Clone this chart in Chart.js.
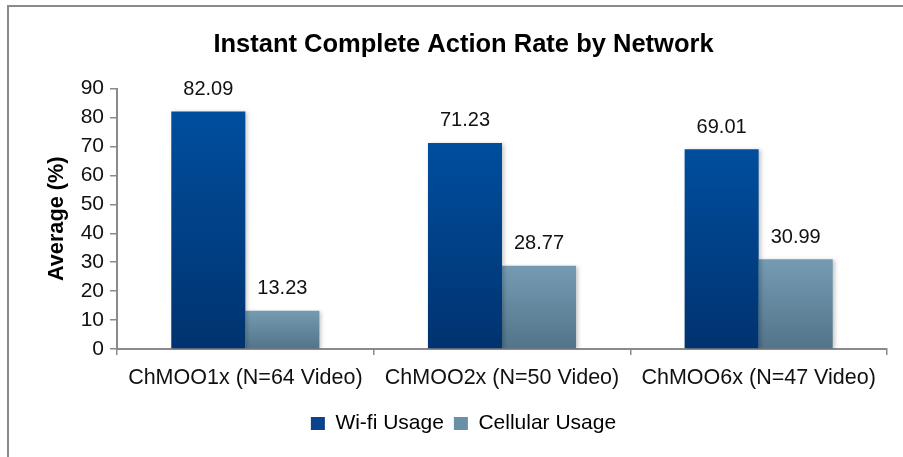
<!DOCTYPE html>
<html>
<head>
<meta charset="utf-8">
<script src="https://cdn.jsdelivr.net/npm/chart.js@4.4.1/dist/chart.umd.min.js"></script>
<style>
  html, body { margin: 0; padding: 0; background: #ffffff; }
  #wrap { position: relative; width: 903px; height: 457px; }
</style>
</head>
<body>
<div id="wrap"><canvas id="c" width="903" height="457"></canvas></div>
<script>
const chartTitle = 'Instant Complete Action Rate by Network';
const yAxisTitle = 'Average (%)';
const categories = ['ChMOO1x (N=64 Video)', 'ChMOO2x (N=50 Video)', 'ChMOO6x (N=47 Video)'];
const seriesNames = ['Wi-fi Usage', 'Cellular Usage'];
const wifiValues = [82.09, 71.23, 69.01];
const cellularValues = [13.23, 28.77, 30.99];
const yTickValues = [0, 10, 20, 30, 40, 50, 60, 70, 80, 90];

const FONT = "'Liberation Sans', Arial, Helvetica, sans-serif";
const wifiGrad = ['#004E9E', '#00336F'];
const cellGrad = ['#759BB2', '#52748A'];

function barGradient(stops, flat) {
  return (c) => {
    const chart = c.chart;
    if (c.type !== 'data' || !chart.chartArea || !chart.scales.y) return flat;
    const ys = chart.scales.y;
    const top = ys.getPixelForValue(c.raw);
    const base = ys.getPixelForValue(0);
    if (!isFinite(top) || !isFinite(base) || top === base) return flat;
    const g = chart.ctx.createLinearGradient(0, top, 0, base);
    g.addColorStop(0, stops[0]);
    g.addColorStop(1, stops[1]);
    return g;
  };
}

const frame = {
  id: 'frame',
  beforeDraw(chart) {
    const ctx = chart.ctx;
    ctx.save();
    ctx.fillStyle = '#ffffff';
    ctx.fillRect(0, 0, chart.width, chart.height);
    ctx.strokeStyle = '#8a8a8a';
    ctx.lineWidth = 2;
    ctx.strokeRect(8, 6, chart.width + 20, chart.height + 20);
    ctx.restore();
  }
};

const barShadow = {
  id: 'barShadow',
  beforeDatasetsDraw(chart) {
    const ctx = chart.ctx;
    ctx.save();
    ctx.shadowColor = 'rgba(0,0,0,0.22)';
    ctx.shadowBlur = 4;
    ctx.shadowOffsetX = 2;
    ctx.shadowOffsetY = 1;
  },
  afterDatasetsDraw(chart) {
    chart.ctx.restore();
  }
};

const valueLabels = {
  id: 'valueLabels',
  afterDatasetsDraw(chart) {
    const ctx = chart.ctx;
    ctx.save();
    ctx.shadowColor = 'transparent';
    ctx.font = '20px ' + FONT;
    ctx.fillStyle = '#111111';
    ctx.textAlign = 'center';
    ctx.textBaseline = 'middle';
    chart.data.datasets.forEach((ds, di) => {
      const meta = chart.getDatasetMeta(di);
      meta.data.forEach((el, i) => {
        ctx.fillText(ds.data[i].toFixed(2), el.x, el.y - 22);
      });
    });
    ctx.restore();
  }
};

new Chart(document.getElementById('c'), {
  type: 'bar',
  data: {
    labels: categories,
    datasets: [
      { label: seriesNames[0], data: wifiValues, backgroundColor: barGradient(wifiGrad, '#0B4590'),
        categoryPercentage: 0.577, barPercentage: 1.0 },
      { label: seriesNames[1], data: cellularValues, backgroundColor: barGradient(cellGrad, '#6A90A8'),
        categoryPercentage: 0.577, barPercentage: 1.0 }
    ]
  },
  options: {
    responsive: false,
    animation: false,
    devicePixelRatio: 1,
    layout: { padding: { left: 40, right: 16, top: 0, bottom: 13 } },
    plugins: {
      title: {
        display: true,
        text: chartTitle,
        color: '#000000',
        font: { family: FONT, size: 25.5, weight: 'bold' },
        padding: { top: 30, bottom: 28 }
      },
      legend: {
        position: 'bottom',
        labels: {
          color: '#111111',
          font: { family: FONT, size: 21 },
          boxWidth: 14,
          boxHeight: 13,
          padding: 10,
          generateLabels: () => [
            { text: seriesNames[0], fillStyle: '#0A438C', strokeStyle: '#0A438C', lineWidth: 0, datasetIndex: 0 },
            { text: seriesNames[1], fillStyle: '#6A90A8', strokeStyle: '#6A90A8', lineWidth: 0, datasetIndex: 1 }
          ]
        }
      },
      tooltip: { enabled: false }
    },
    scales: {
      x: {
        offset: true,
        grid: { display: true, offset: true, drawOnChartArea: false, tickLength: 6, color: '#8a8a8a', lineWidth: 1.5 },
        border: { display: true, color: '#8a8a8a', width: 2 },
        ticks: { color: '#111111', font: { family: FONT, size: 21.5 }, padding: 10, maxRotation: 0, autoSkip: false },
        afterFit(scale) { scale.height = 54; }
      },
      y: {
        min: 0,
        max: 90,
        afterBuildTicks(scale) { scale.ticks = yTickValues.map(v => ({ value: v })); },
        grid: { display: true, drawOnChartArea: false, tickLength: 7, color: '#8a8a8a', lineWidth: 1.5 },
        border: { display: true, color: '#8a8a8a', width: 2 },
        ticks: { color: '#111111', font: { family: FONT, size: 21 }, padding: 6 },
        title: {
          display: true,
          text: yAxisTitle,
          color: '#000000',
          font: { family: FONT, size: 21.7, weight: 'bold' },
          padding: { top: 4, bottom: 0 }
        },
        afterFit(scale) { scale.width = 77; }
      }
    }
  },
  plugins: [frame, barShadow, valueLabels]
});
</script>
</body>
</html>
